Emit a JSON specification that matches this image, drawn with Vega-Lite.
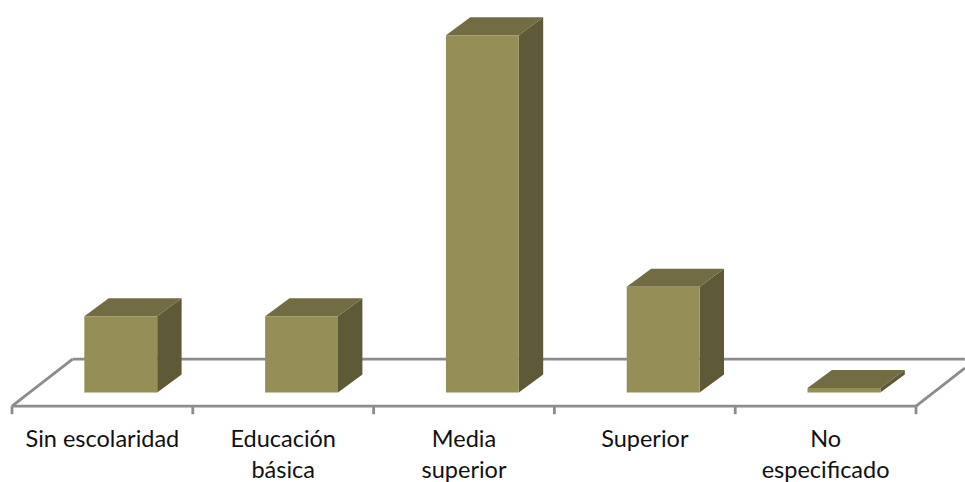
{"$schema":"https://vega.github.io/schema/vega-lite/v6.json","width":965,"height":482,"padding":0,"autosize":"none","background":"white","config":{"view":{"stroke":null}},"datasets":{"bars":[{"cat":"Sin escolaridad","pos":0,"value":10,"label":"Sin escolaridad"},{"cat":"Educación básica","pos":1,"value":10,"label":"Educación\nbásica"},{"cat":"Media superior","pos":2,"value":46.9,"label":"Media\nsuperior"},{"cat":"Superior","pos":3,"value":13.9,"label":"Superior"},{"cat":"No especificado","pos":4,"value":0.6,"label":"No\nespecificado"}],"floor":[{"seg":"front","u":0,"v":-1.8},{"seg":"front","u":5,"v":-1.8},{"seg":"back","u":0.335,"v":4.37},{"seg":"back","u":5.27,"v":4.37},{"seg":"left","u":0,"v":-1.8},{"seg":"left","u":0.335,"v":4.37},{"seg":"right","u":5,"v":-1.8},{"seg":"right","u":5.27,"v":3.2},{"seg":"t0","u":0,"v":-1.8},{"seg":"t0","u":0,"v":-2.85},{"seg":"t1","u":1,"v":-1.8},{"seg":"t1","u":1,"v":-2.85},{"seg":"t2","u":2,"v":-1.8},{"seg":"t2","u":2,"v":-2.85},{"seg":"t3","u":3,"v":-1.8},{"seg":"t3","u":3,"v":-2.85},{"seg":"t4","u":4,"v":-1.8},{"seg":"t4","u":4,"v":-2.85},{"seg":"t5","u":5,"v":-1.8},{"seg":"t5","u":5,"v":-2.85}]},"layer":[{"data":{"name":"floor"},"mark":{"type":"line","color":"#8c8c8c","strokeWidth":2.8,"interpolate":"linear"},"encoding":{"x":{"field":"u","type":"quantitative","scale":{"domain":[-0.0664,5.271],"nice":false,"zero":false},"axis":null},"y":{"field":"v","type":"quantitative","scale":{"domain":[-11.75,51.53],"nice":false,"zero":false},"axis":null},"detail":{"field":"seg"},"order":{"field":"v"}}},{"data":{"name":"bars"},"transform":[{"calculate":"[0,1]","as":"t"},{"flatten":["t"]},{"calculate":"datum.pos+0.803+0.135*datum.t","as":"u"},{"calculate":"2.363*datum.t","as":"low"},{"calculate":"datum.value+2.363*datum.t","as":"high"}],"mark":{"type":"area","color":"#5e5a37","orient":"vertical","opacity":1},"encoding":{"x":{"field":"u","type":"quantitative"},"y":{"field":"high","type":"quantitative"},"y2":{"field":"low"},"detail":{"field":"cat"}}},{"data":{"name":"bars"},"transform":[{"calculate":"[0,1,2,3]","as":"t"},{"flatten":["t"]},{"calculate":"datum.pos+0.4+[0,0.135,0.403,0.538][datum.t]","as":"u"},{"calculate":"datum.value+[0,0,0,2.363][datum.t]","as":"low"},{"calculate":"datum.value+[0,2.363,2.363,2.363][datum.t]","as":"high"}],"mark":{"type":"area","color":"#716c43","orient":"vertical","opacity":1},"encoding":{"x":{"field":"u","type":"quantitative"},"y":{"field":"high","type":"quantitative"},"y2":{"field":"low"},"detail":{"field":"cat"}}},{"data":{"name":"bars"},"transform":[{"calculate":"datum.pos+0.4","as":"l"},{"calculate":"datum.pos+0.803","as":"r"}],"mark":{"type":"rect","color":"#968e57"},"encoding":{"x":{"field":"l","type":"quantitative"},"x2":{"field":"r"},"y":{"field":"value","type":"quantitative"},"y2":{"datum":0}}},{"data":{"name":"bars"},"transform":[{"calculate":"datum.pos+0.5","as":"c"}],"mark":{"type":"text","font":"Lato","fontSize":23.5,"color":"#111111","lineBreak":"\n","lineHeight":31.5,"align":"center","baseline":"alphabetic"},"encoding":{"x":{"field":"c","type":"quantitative"},"y":{"datum":-7.1},"text":{"field":"label"}}}]}
